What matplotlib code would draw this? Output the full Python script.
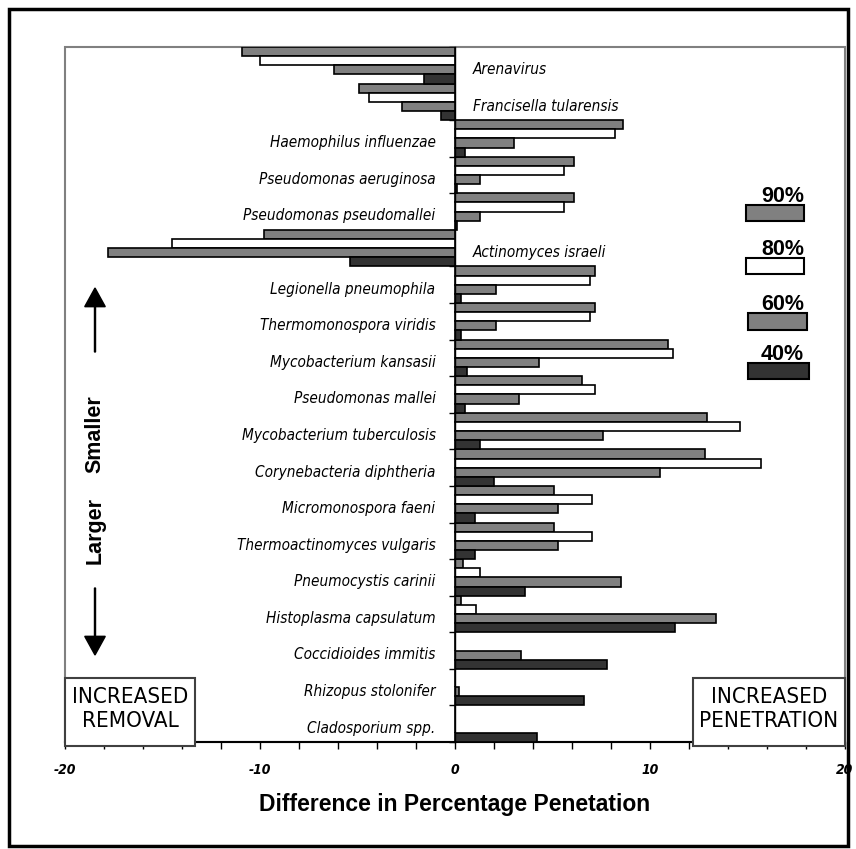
import matplotlib
matplotlib.use("Agg")
import matplotlib.pyplot as plt
from matplotlib.patches import Rectangle, FancyArrow
import numpy as np

# organisms, top to bottom
names = ["Arenavirus", "Francisella tularensis", "Haemophilus influenzae",
         "Pseudomonas aeruginosa", "Pseudomonas pseudomallei", "Actinomyces israeli",
         "Legionella pneumophila", "Thermomonospora viridis", "Mycobacterium kansasii",
         "Pseudomonas mallei", "Mycobacterium tuberculosis", "Corynebacteria diphtheria",
         "Micromonospora faeni", "Thermoactinomyces vulgaris", "Pneumocystis carinii",
         "Histoplasma capsulatum", "Coccidioides immitis", "Rhizopus stolonifer",
         "Cladosporium spp."]

v90 = [-10.9, -4.9, 8.6, 6.1, 6.1, -9.8, 7.2, 7.2, 10.9, 6.5, 12.9, 12.8, 5.1, 5.1, 0.4, 0.3, 0, 0, 0]
v80 = [-10.0, -4.4, 8.2, 5.6, 5.6, -14.5, 6.9, 6.9, 11.2, 7.2, 14.6, 15.7, 7.0, 7.0, 1.3, 1.1, 0, 0, 0]
v60 = [-6.2, -2.7, 3.0, 1.3, 1.3, -17.8, 2.1, 2.1, 4.3, 3.3, 7.6, 10.5, 5.3, 5.3, 8.5, 13.4, 3.4, 0.2, 0]
v40 = [-1.6, -0.7, 0.5, 0.1, 0.1, -5.4, 0.3, 0.3, 0.6, 0.5, 1.3, 2.0, 1.0, 1.0, 3.6, 11.3, 7.8, 6.6, 4.2]

series = ["90%", "80%", "60%", "40%"]
colors = ["#808080", "#ffffff", "#808080", "#333333"]

NARROW = ["DejaVu Sans"]
ARIAL = ["Liberation Sans", "DejaVu Sans"]

W, H = 856, 849
fig = plt.figure(figsize=(W / 100, H / 100), dpi=100)

def px(x, y):
    return x / W, 1 - y / H

ax = fig.add_axes([65 / W, 1 - 742 / H, (845 - 65) / W, (742 - 47) / H])

n = len(names)
y0 = np.arange(n)
for j, (vals, c) in enumerate(zip([v90, v80, v60, v40], colors)):
    ax.barh(y0 + 0.125 + j * 0.25, vals, height=0.25, color=c,
            edgecolor="black", linewidth=1.2, zorder=3)

ax.set_xlim(-20, 20)
ax.set_ylim(n, 0)

# plot area frame
ax.add_patch(Rectangle((0, 0), 1, 1, transform=ax.transAxes, fill=False,
                       edgecolor="#808080", linewidth=1.5, clip_on=False, zorder=1))
for s in ["top", "right"]:
    ax.spines[s].set_visible(False)
ax.spines["left"].set_position(("data", 0))
ax.spines["left"].set_linewidth(1.0)
ax.spines["left"].set_zorder(4)
ax.spines["bottom"].set_linewidth(1.5)

ax.set_yticks(range(n + 1))
ax.set_yticklabels([])
ax.tick_params(axis="y", direction="out", length=4, width=1)

ax.set_xticks(range(-20, 21, 2))
ax.set_xticklabels([str(t) if t % 10 == 0 else "" for t in range(-20, 21, 2)],
                   fontsize=10, fontweight="bold", fontstyle="italic",
                   family=NARROW, fontstretch="condensed")
ax.tick_params(axis="x", direction="out", length=5, width=1, pad=10)
ax.set_xlabel("Difference in Percentage Penetation", fontsize=16.5,
              fontweight="bold", family=ARIAL, labelpad=12)

# organism labels
for i, name in enumerate(names):
    row = [v90[i], v80[i], v60[i], v40[i]]
    if min(row) < 0:
        ax.text(0.9, i + 0.62, name, ha="left", va="center", fontsize=11,
                fontstyle="italic", family=NARROW, fontstretch="condensed", zorder=5)
    else:
        ax.text(-1.0, i + 0.62, name, ha="right", va="center", fontsize=11,
                fontstyle="italic", family=NARROW, fontstretch="condensed", zorder=5)

# legend boxes
leg = [(746, 205, 58, 16), (746, 258, 58, 16), (748, 313, 59, 17), (748, 363, 61, 16)]
for (x, y, w, h), lab, c in zip(leg, series, colors):
    fx, fy = px(x, y + h)
    fig.add_artist(Rectangle((fx, fy), w / W, h / H, transform=fig.transFigure,
                             facecolor=c, edgecolor="black", linewidth=1.5))
    tx, ty = px(804, y - 3)
    fig.text(tx, ty, lab, ha="right", va="baseline", fontsize=15.5,
             fontweight="bold", family=ARIAL)

# side boxes
for (x0, x1), txt in [((65, 195), "INCREASED\nREMOVAL"), ((693, 845), "INCREASED\nPENETRATION")]:
    fx, fy = px(x0, 746)
    fig.add_artist(Rectangle((fx, fy), (x1 - x0) / W, 68 / H, transform=fig.transFigure,
                             facecolor="white", edgecolor="#404040", linewidth=1.5, zorder=6))
    cx, cy = px((x0 + x1) / 2, 709)
    fig.text(cx, cy, txt, ha="center", va="center", fontsize=16, family=NARROW,
             fontstretch="condensed", linespacing=1.3, zorder=7)

# size arrows
ax_x = 95
fig.add_artist(FancyArrow(*px(ax_x, 352), 0, (352 - 288) / H, width=0.0012,
                          head_width=0.024, head_length=0.022, length_includes_head=True,
                          transform=fig.transFigure, color="black"))
fig.add_artist(FancyArrow(*px(ax_x, 588), 0, -(655 - 588) / H, width=0.0012,
                          head_width=0.024, head_length=0.022, length_includes_head=True,
                          transform=fig.transFigure, color="black"))
fig.text(*px(ax_x, 434), "Smaller", rotation=90, ha="center", va="center",
         fontsize=15.5, fontweight="bold", family=ARIAL)
fig.text(*px(ax_x, 531), "Larger", rotation=90, ha="center", va="center",
         fontsize=15.5, fontweight="bold", family=ARIAL)

# outer frame
fx, fy = px(9, 846)
fig.add_artist(Rectangle((fx, fy), (848 - 9) / W, (846 - 9) / H, transform=fig.transFigure,
                         fill=False, edgecolor="black", linewidth=2.5))

fig.savefig("out.png", dpi=100)
